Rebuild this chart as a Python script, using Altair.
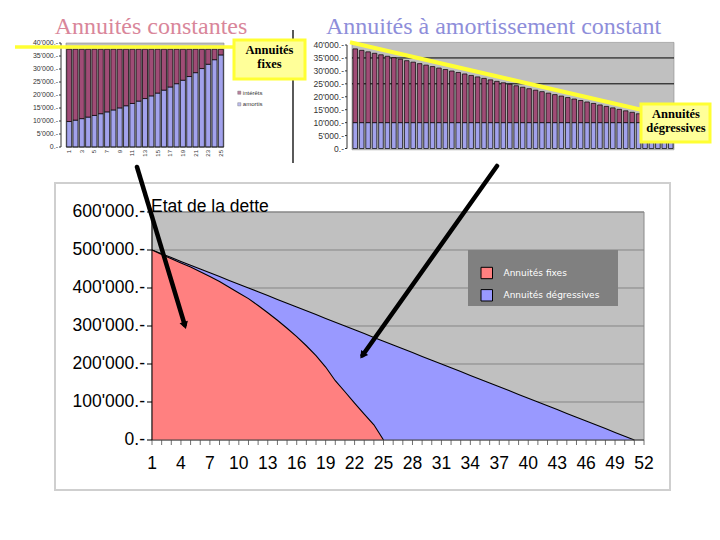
import altair as alt
import pandas as pd

# ---------------- texts ----------------
title_left = "Annuités constantes"
title_right = "Annuités à amortissement constant"
debt_title = "Etat de la dette"
box_fixed = ["Annuités", "fixes"]
box_degr = ["Annuités", "dégressives"]

bar_series = ["intérêts", "amortis"]
bar_colors = ["#A04C76", "#A2A2EC"]
area_series = ["Annuités fixes", "Annuités dégressives"]
area_colors = ["#FF8080", "#9999FF"]

# ---------------- annuités constantes (25 ans) ----------------
fix_years = list(range(1, 26))
fix_amort = [9800, 10340, 10910, 11510, 12140, 12810, 13510, 14260, 15040, 15870,
             16740, 17660, 18630, 19660, 20740, 21880, 23080, 24350, 25690, 27100,
             28590, 30170, 31830, 33580, 35420]
fix_interest = [27800, 27260, 26690, 26090, 25460, 24790, 24090, 23340, 22560, 21730,
                20860, 19940, 18970, 17940, 16860, 15720, 14520, 13250, 11910, 10500,
                9010, 7430, 5770, 4020, 2180]

# ---------------- amortissement constant (50 ans) ----------------
deg_years = list(range(1, 51))
deg_amort = [10000, 10000, 10000, 10000, 10000, 10000, 10000, 10000, 10000, 10000,
             10000, 10000, 10000, 10000, 10000, 10000, 10000, 10000, 10000, 10000,
             10000, 10000, 10000, 10000, 10000, 10000, 10000, 10000, 10000, 10000,
             10000, 10000, 10000, 10000, 10000, 10000, 10000, 10000, 10000, 10000,
             10000, 10000, 10000, 10000, 10000, 10000, 10000, 10000, 10000, 10000]
deg_interest = [28500, 27930, 27360, 26790, 26220, 25650, 25080, 24510, 23940, 23370,
                22800, 22230, 21660, 21090, 20520, 19950, 19380, 18810, 18240, 17670,
                17100, 16530, 15960, 15390, 14820, 14250, 13680, 13110, 12540, 11970,
                11400, 10830, 10260, 9690, 9120, 8550, 7980, 7410, 6840, 6270,
                5700, 5130, 4560, 3990, 3420, 2850, 2280, 1710, 1140, 570]

# ---------------- état de la dette ----------------
periods = list(range(1, 53))
debt_fixed = [500000, 488000, 477000, 466000, 455000, 443000, 430000, 417000, 402000, 387000,
              372000, 354000, 335000, 315000, 294000, 272000, 248000, 222000, 192000, 156000,
              127000, 97000, 68000, 40000, 0]
debt_degr = [500000, 490000, 480000, 470000, 460000, 450000, 440000, 430000, 420000, 410000,
             400000, 390000, 380000, 370000, 360000, 350000, 340000, 330000, 320000, 310000,
             300000, 290000, 280000, 270000, 260000, 250000, 240000, 230000, 220000, 210000,
             200000, 190000, 180000, 170000, 160000, 150000, 140000, 130000, 120000, 110000,
             100000, 90000, 80000, 70000, 60000, 50000, 40000, 30000, 20000, 10000, 0]

small_y_ticks = [0, 5000, 10000, 15000, 20000, 25000, 30000, 35000, 40000]
small_x_labels = [1, 3, 5, 7, 9, 11, 13, 15, 17, 19, 21, 23, 25]
right_grid = [25000, 35000]
big_y_ticks = [0, 100000, 200000, 300000, 400000, 500000, 600000]
big_x_labels = [1, 4, 7, 10, 13, 16, 19, 22, 25, 28, 31, 34, 37, 40, 43, 46, 49, 52]

LABEL_EXPR = "replace(format(datum.v, ','), ',', \"'\") + '.-'"

W, H = 704, 524
one = pd.DataFrame({"k": [0]})


def seg(x1, y1, x2, y2, color, width, cap="butt"):
    return alt.Chart(one).mark_rule(color=color, strokeWidth=width, strokeCap=cap).encode(
        x=alt.value(x1), y=alt.value(y1), x2=alt.value(x2), y2=alt.value(y2))


def box(x1, y1, x2, y2, fill, stroke, sw):
    return alt.Chart(one).mark_rect(fill=fill, stroke=stroke, strokeWidth=sw).encode(
        x=alt.value(x1), y=alt.value(y1), x2=alt.value(x2), y2=alt.value(y2))


def label(x, y, text, **kw):
    return alt.Chart(one).mark_text(**kw).encode(
        x=alt.value(x), y=alt.value(y), text=alt.value(text))


def y_axis(ticks, yscale, axis_x, tick_len, gap, font_size, color, dom_color):
    df = pd.DataFrame({"v": ticks})
    labs = alt.Chart(df).transform_calculate(lbl=LABEL_EXPR).mark_text(
        align="right", baseline="middle", font="Liberation Sans", fontSize=font_size, color=color).encode(
        y=alt.Y("v:Q", scale=yscale, axis=None), x=alt.value(axis_x - tick_len - gap), text="lbl:N")
    tks = alt.Chart(df).mark_rule(color=dom_color, strokeWidth=1).encode(
        y=alt.Y("v:Q", scale=yscale, axis=None), x=alt.value(axis_x - tick_len), x2=alt.value(axis_x))
    dom = alt.Chart(pd.DataFrame({"a": [min(ticks)], "b": [max(ticks)]})).mark_rule(
        color=dom_color, strokeWidth=1).encode(
        y=alt.Y("a:Q", scale=yscale, axis=None), y2="b:Q", x=alt.value(axis_x))
    return [dom, tks, labs]


# ---------------- left small chart ----------------
LX = alt.Scale(domain=[0.5, 25.5], range=[53, 221], nice=False, zero=False)
LY = alt.Scale(domain=[0, 40000], range=[139, 35], nice=False, zero=False)
df_fix = pd.DataFrame({"year": fix_years, "amort": fix_amort, "interest": fix_interest})

left_bg = alt.Chart(pd.DataFrame({"x0": [0.5], "x1": [25.5], "y0": [0], "y1": [40000]})).mark_rect(
    fill="#C0C0C0", stroke="#8C8C8C", strokeWidth=0.6).encode(
    x=alt.X("x0:Q", scale=LX, axis=None), x2="x1:Q",
    y=alt.Y("y0:Q", scale=LY, axis=None), y2="y1:Q")
left_amort = alt.Chart(df_fix).transform_calculate(zero="0").mark_bar(
    width=5, fill=bar_colors[1], stroke="black", strokeWidth=0.7).encode(
    x=alt.X("year:Q", scale=LX, axis=None),
    y=alt.Y("amort:Q", scale=LY, axis=None), y2="zero:Q")
left_int = alt.Chart(df_fix).transform_calculate(total="datum.amort + datum.interest").mark_bar(
    width=5, fill=bar_colors[0], stroke="black", strokeWidth=0.7).encode(
    x=alt.X("year:Q", scale=LX, axis=None),
    y=alt.Y("amort:Q", scale=LY, axis=None), y2="total:Q")
left_xlab = alt.Chart(pd.DataFrame({"v": small_x_labels})).transform_calculate(
    lbl="'' + datum.v").mark_text(
    align="right", baseline="middle", angle=270, font="Liberation Sans", fontSize=6, color="#333333").encode(
    x=alt.X("v:Q", scale=LX, axis=None), y=alt.value(142), text="lbl:N")
left_base = alt.Chart(pd.DataFrame({"a": [0.5], "b": [25.5]})).mark_rule(color="#333333", strokeWidth=0.8).encode(
    x=alt.X("a:Q", scale=LX, axis=None), x2="b:Q", y=alt.value(139))
left_chart = alt.layer(left_bg, left_amort, left_int, left_base, left_xlab,
                       *y_axis(small_y_ticks, LY, 53, 2, 1, 7, "#333333", "#333333"))

small_legend = []
for i, (name, col) in enumerate(zip(bar_series, bar_colors)):
    yy = 84.7 + i * 11.6
    small_legend.append(alt.Chart(one).mark_square(size=10, filled=True, color=col, stroke="#333333",
                                                   strokeWidth=0.4).encode(
        x=alt.value(231.3), y=alt.value(yy)))
    small_legend.append(label(234.8, yy, name, align="left", baseline="middle",
                              font="Liberation Sans", fontSize=6, color="#333333"))

# ---------------- right small chart ----------------
RX = alt.Scale(domain=[0.5, 50.5], range=[339, 671], nice=False, zero=False)
RY = alt.Scale(domain=[0, 40000], range=[140.5, 37], nice=False, zero=False)
df_deg = pd.DataFrame({"year": deg_years, "amort": deg_amort, "interest": deg_interest})

right_bg = alt.Chart(pd.DataFrame({"x0": [0.5], "x1": [50.5], "y0": [-500], "y1": [41000]})).mark_rect(
    fill="#C0C0C0", stroke="#8C8C8C", strokeWidth=0.6).encode(
    x=alt.X("x0:Q", scale=RX, axis=None), x2="x1:Q",
    y=alt.Y("y0:Q", scale=RY, axis=None), y2="y1:Q")
right_grid_l = alt.Chart(pd.DataFrame({"v": right_grid, "x0": [0.5, 0.5], "x1": [50.5, 50.5]})).mark_rule(
    color="black", strokeWidth=1).encode(
    x=alt.X("x0:Q", scale=RX, axis=None), x2="x1:Q", y=alt.Y("v:Q", scale=RY, axis=None))
right_amort = alt.Chart(df_deg).transform_calculate(zero="0").mark_bar(
    width=4.6, fill=bar_colors[1], stroke="black", strokeWidth=0.7).encode(
    x=alt.X("year:Q", scale=RX, axis=None),
    y=alt.Y("amort:Q", scale=RY, axis=None), y2="zero:Q")
right_int = alt.Chart(df_deg).transform_calculate(total="datum.amort + datum.interest").mark_bar(
    width=4.6, fill=bar_colors[0], stroke="black", strokeWidth=0.7).encode(
    x=alt.X("year:Q", scale=RX, axis=None),
    y=alt.Y("amort:Q", scale=RY, axis=None), y2="total:Q")
right_chart = alt.layer(right_bg, right_grid_l, right_amort, right_int,
                        *y_axis(small_y_ticks, RY, 339, 2, 1, 8.5, "#333333", "#333333"))

# ---------------- big chart ----------------
BX = alt.Scale(domain=[1, 52], range=[144, 636], nice=False, zero=False)
BY = alt.Scale(domain=[0, 600000], range=[432, 204], nice=False, zero=False)
df_red = pd.DataFrame({"period": periods[:len(debt_fixed)], "debt": debt_fixed})
df_blue = pd.DataFrame({"period": periods[:len(debt_degr)], "debt": debt_degr})

big_bg = alt.Chart(pd.DataFrame({"x0": [1], "x1": [52], "y0": [0], "y1": [600000]})).mark_rect(
    fill="#C0C0C0", stroke="#8A8A8A", strokeWidth=1).encode(
    x=alt.X("x0:Q", scale=BX, axis=None), x2="x1:Q",
    y=alt.Y("y0:Q", scale=BY, axis=None), y2="y1:Q")
big_grid = alt.Chart(pd.DataFrame({"v": big_y_ticks[1:], "x0": [1] * 6, "x1": [52] * 6})).mark_rule(
    color="#858585", strokeWidth=1).encode(
    x=alt.X("x0:Q", scale=BX, axis=None), x2="x1:Q", y=alt.Y("v:Q", scale=BY, axis=None))
blue_area = alt.Chart(df_blue).transform_calculate(zero="0").mark_area(
    fill=area_colors[1], opacity=1).encode(
    x=alt.X("period:Q", scale=BX, axis=None),
    y=alt.Y("debt:Q", scale=BY, axis=None), y2="zero:Q")
blue_line = alt.Chart(df_blue).mark_line(color="black", strokeWidth=1.1).encode(
    x=alt.X("period:Q", scale=BX, axis=None), y=alt.Y("debt:Q", scale=BY, axis=None))
red_area = alt.Chart(df_red).transform_calculate(zero="0").mark_area(
    fill=area_colors[0], opacity=1).encode(
    x=alt.X("period:Q", scale=BX, axis=None), y=alt.Y("debt:Q", scale=BY, axis=None), y2="zero:Q")
red_line = alt.Chart(df_red).mark_line(color="black", strokeWidth=1.1).encode(
    x=alt.X("period:Q", scale=BX, axis=None), y=alt.Y("debt:Q", scale=BY, axis=None))
big_xticks = alt.Chart(pd.DataFrame({"v": periods})).mark_rule(color="#707070", strokeWidth=1).encode(
    x=alt.X("v:Q", scale=BX, axis=None), y=alt.value(432), y2=alt.value(437))
big_xbase = alt.Chart(pd.DataFrame({"a": [1], "b": [52]})).mark_rule(color="#404040", strokeWidth=1).encode(
    x=alt.X("a:Q", scale=BX, axis=None), x2="b:Q", y=alt.value(432))
big_xlab = alt.Chart(pd.DataFrame({"v": big_x_labels})).transform_calculate(
    lbl="'' + datum.v").mark_text(
    align="center", baseline="middle", font="Liberation Sans", fontSize=17.5, color="black").encode(
    x=alt.X("v:Q", scale=BX, axis=None), y=alt.value(455.5), text="lbl:N")
big_chart = alt.layer(big_bg, big_grid, blue_area, blue_line, red_area, red_line,
                      big_xticks, big_xbase, big_xlab,
                      *y_axis(big_y_ticks, BY, 144, 5, 2, 17.5, "black", "black"))

big_legend = [box(460, 242, 610, 298, "#808080", "#808080", 0)]
for i, (name, col) in enumerate(zip(area_series, area_colors)):
    yy = 265 + i * 22.3
    big_legend.append(box(473, yy - 5.7, 484.5, yy + 5.7, col, "black", 1))
    big_legend.append(label(495.5, yy, name, align="left", baseline="middle",
                            font="DejaVu Sans", fontSize=9, color="white"))

# ---------------- decorations ----------------
frame = box(47, 175, 662, 482, "white", "#CFCFCF", 2)
etat = label(143, 199, debt_title, align="left", font="Liberation Sans", fontSize=17.5, color="black")
sep = seg(285, 22, 285, 155, "black", 1.3)
yl1 = seg(7, 39, 228, 39, "#FFFF33", 3.5)
yl2 = seg(342, 34.3, 632, 101.5, "#FFFF33", 4)
box1 = box(226, 32, 297, 71, "#FFFF99", "#FFFF33", 3)
box1_t = [label(261.5, 42, box_fixed[0], align="center", baseline="middle", font="Liberation Serif",
                fontSize=12.5, fontWeight="bold", color="black"),
          label(261.5, 55.5, box_fixed[1], align="center", baseline="middle", font="Liberation Serif",
                fontSize=12.5, fontWeight="bold", color="black")]
box2 = box(633, 96, 702, 134, "#FFFF99", "#FFFF33", 3)
box2_t = [label(668, 106, box_degr[0], align="center", baseline="middle", font="Liberation Serif",
                fontSize=12.5, fontWeight="bold", color="black"),
          label(668, 119.5, box_degr[1], align="center", baseline="middle", font="Liberation Serif",
                fontSize=12.5, fontWeight="bold", color="black")]

arrow1 = seg(129, 159, 176.6, 316.5, "black", 4.5, "round")
head1 = alt.Chart(one).mark_point(shape="triangle-down", filled=True, size=75, color="black",
                                  opacity=1, angle=343.2).encode(x=alt.value(176.8), y=alt.value(317.5))
arrow2 = seg(489, 158, 354.6, 347.2, "black", 4.5, "round")
head2 = alt.Chart(one).mark_point(shape="triangle-down", filled=True, size=75, color="black",
                                  opacity=1, angle=35.4).encode(x=alt.value(354.5), y=alt.value(347.5))

t1 = label(143, 19, title_left, align="center", font="Liberation Serif", fontSize=24, color="#D9869A")
t2 = label(485.5, 19, title_right, align="center", font="Liberation Serif", fontSize=24, color="#8E8EDA")

layers = ([frame, big_chart] + big_legend + [etat, left_chart] + small_legend +
          [right_chart, sep, yl1, yl2, box1] + box1_t + [box2] + box2_t +
          [arrow1, head1, arrow2, head2, t1, t2])

chart = alt.layer(*layers).resolve_scale(x="independent", y="independent").properties(
    width=W, height=H, padding=0, background="white",
    autosize=alt.AutoSizeParams(type="none")).configure_view(strokeWidth=0)

chart.save("out.html", embed_options={"renderer": "svg", "actions": False})
